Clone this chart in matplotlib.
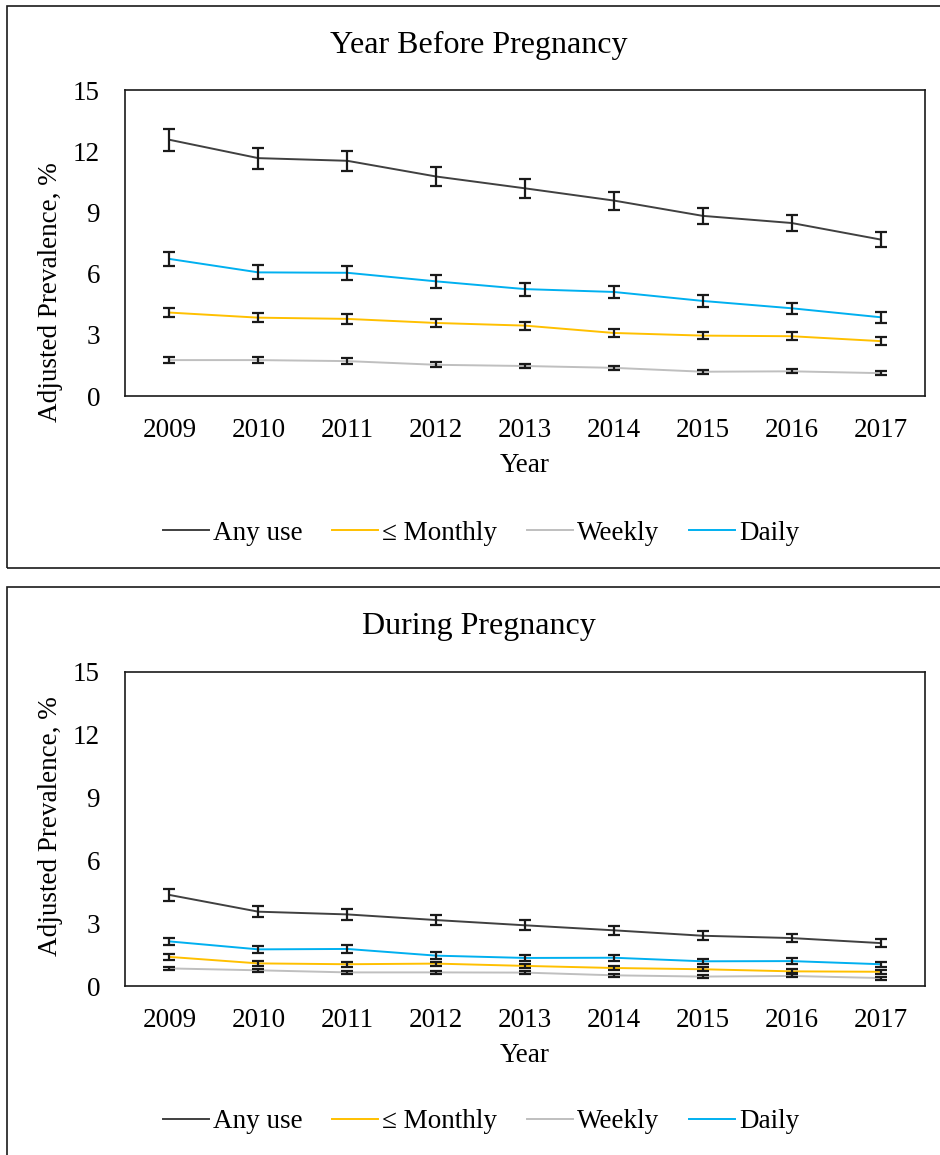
import matplotlib
matplotlib.use("Agg")
import matplotlib.pyplot as plt
from matplotlib.patches import Rectangle

plt.rcParams['font.family'] = ['Liberation Serif', 'DejaVu Serif']

years = ['2009', '2010', '2011', '2012', '2013', '2014', '2015', '2016', '2017']
series_names = ['Any use', '\u2264 Monthly', 'Weekly', 'Daily']
series_colors = ['#404040', '#FFC000', '#BFBFBF', '#00B0F0']

# Year before pregnancy
before_any = [12.56, 11.66, 11.53, 10.76, 10.18, 9.58, 8.83, 8.48, 7.67]
before_any_err = [0.54, 0.51, 0.50, 0.48, 0.47, 0.44, 0.41, 0.39, 0.37]
before_monthly = [4.09, 3.84, 3.78, 3.58, 3.45, 3.09, 2.96, 2.93, 2.69]
before_monthly_err = [0.21, 0.23, 0.23, 0.21, 0.20, 0.19, 0.19, 0.19, 0.18]
before_weekly = [1.76, 1.76, 1.71, 1.53, 1.47, 1.38, 1.19, 1.21, 1.12]
before_weekly_err = [0.15, 0.15, 0.14, 0.12, 0.12, 0.11, 0.10, 0.10, 0.10]
before_daily = [6.72, 6.06, 6.04, 5.62, 5.24, 5.10, 4.66, 4.30, 3.86]
before_daily_err = [0.36, 0.34, 0.34, 0.33, 0.32, 0.30, 0.30, 0.27, 0.26]

# During pregnancy
during_any = [4.35, 3.55, 3.42, 3.15, 2.90, 2.66, 2.40, 2.29, 2.05]
during_any_err = [0.28, 0.25, 0.25, 0.25, 0.23, 0.22, 0.21, 0.20, 0.18]
during_monthly = [1.39, 1.08, 1.04, 1.07, 0.96, 0.86, 0.80, 0.70, 0.68]
during_monthly_err = [0.14, 0.11, 0.11, 0.10, 0.10, 0.10, 0.10, 0.09, 0.09]
during_weekly = [0.84, 0.75, 0.65, 0.65, 0.64, 0.51, 0.45, 0.48, 0.38]
during_weekly_err = [0.08, 0.08, 0.08, 0.08, 0.08, 0.07, 0.07, 0.07, 0.07]
during_daily = [2.13, 1.75, 1.77, 1.45, 1.34, 1.35, 1.18, 1.19, 1.04]
during_daily_err = [0.18, 0.17, 0.17, 0.16, 0.14, 0.14, 0.13, 0.13, 0.12]

yticks = [0, 3, 6, 9, 12, 15]

W, H = 940, 1155
fig = plt.figure(figsize=(W / 100, H / 100), dpi=100)

def fx(px):
    return px / W

def fy(py):
    return 1 - py / H

panels = [
    dict(title='Year Before Pregnancy', top=6, bottom=568, ax_top=90, ax_bot=396,
         ylab_c=292, leg_y=533,
         data=[(before_any, before_any_err), (before_monthly, before_monthly_err),
               (before_weekly, before_weekly_err), (before_daily, before_daily_err)]),
    dict(title='During Pregnancy', top=587, bottom=1170, ax_top=672, ax_bot=986,
         ylab_c=826, leg_y=1122,
         data=[(during_any, during_any_err), (during_monthly, during_monthly_err),
               (during_weekly, during_weekly_err), (during_daily, during_daily_err)]),
]

ax_left, ax_right = 125, 925
fs = 19.5

for p in panels:
    # panel border
    fig.patches.append(Rectangle((fx(7), fy(p['bottom'])), fx(955) - fx(7),
                                 fy(p['top']) - fy(p['bottom']),
                                 transform=fig.transFigure, fill=False,
                                 edgecolor='#1a1a1a', linewidth=1.2, clip_on=False))
    ax = fig.add_axes([fx(ax_left), fy(p['ax_bot']), fx(ax_right) - fx(ax_left),
                       fy(p['ax_top']) - fy(p['ax_bot'])])
    x = list(range(len(years)))
    handles = []
    for (vals, errs), name, col in zip(p['data'], series_names, series_colors):
        h, = ax.plot(x, vals, color=col, linewidth=1.4, label=name, zorder=2)
        handles.append(h)
    for (vals, errs) in p['data']:
        ax.errorbar(x, vals, yerr=errs, fmt='none', ecolor='#1a1a1a',
                    elinewidth=1.6, capsize=4.5, capthick=1.6, zorder=3)
    ax.set_xlim(-0.5, len(years) - 0.5)
    ax.set_ylim(0, 15)
    ax.set_yticks(yticks)
    ax.set_yticklabels([str(t) for t in yticks])
    ax.set_xticks(x)
    ax.set_xticklabels(years)
    ax.tick_params(axis='both', length=0, labelsize=fs)
    ax.tick_params(axis='y', pad=18)
    ax.tick_params(axis='x', pad=16)
    for s in ax.spines.values():
        s.set_linewidth(1.2)
        s.set_color('#1a1a1a')
    hpx = p['ax_bot'] - p['ax_top']
    ax.set_xlabel('Year', fontsize=fs, va='center')
    ax.xaxis.set_label_coords(0.5, -70 / hpx)
    ax.set_ylabel('Adjusted Prevalence, %', fontsize=fs)
    ax.yaxis.set_label_coords((63 - ax_left) / (ax_right - ax_left),
                              (p['ax_bot'] - p['ylab_c']) / hpx)
    fig.text(fx(479), fy(p['top'] + 47), p['title'], ha='center', va='baseline',
             fontsize=23)
    fig.legend(handles=handles, loc='center', bbox_to_anchor=(fx(481), fy(p['leg_y'])),
               ncol=4, frameon=False, fontsize=fs, handlelength=1.7,
               handletextpad=0.15, columnspacing=1.1)

fig.savefig('out.png', dpi=100)
